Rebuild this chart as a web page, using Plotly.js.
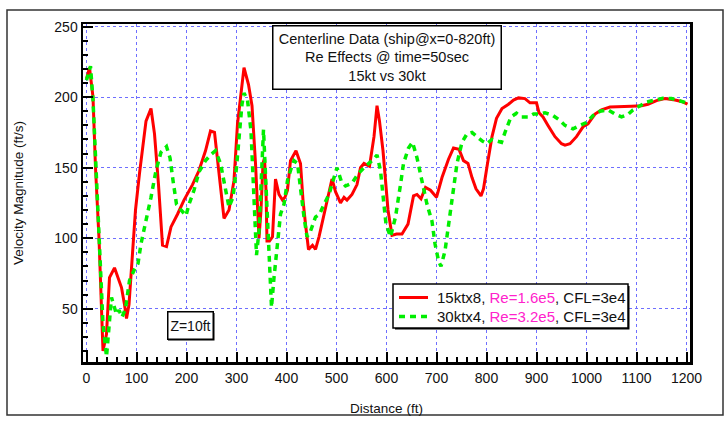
<!DOCTYPE html>
<html>
<head>
<meta charset="utf-8">
<script src="https://cdn.plot.ly/plotly-3.0.1.min.js"></script>
<style>
html,body{margin:0;padding:0;background:#fff;}
#chart{width:728px;height:424px;}
</style>
</head>
<body>
<div id="chart"></div>
<script>
// Red series: 15ktx8
const redX = [0,6,13,18,25,33,40,46,56,70,76,80,85,91,98,106,113,119,129,136,144,152,160,169,182,195,212,225,238,248,256,265,275,285,295,302,309,315,324,331,338,342,345,349,353,356,359,361,366,372,378,385,392,397,402,408,419,428,433,438,444,452,458,465,475,485,491,498,508,515,521,531,541,548,555,566,575,581,586,593,598,603,611,620,631,643,654,661,669,678,688,700,711,724,734,745,754,763,771,779,789,794,802,811,820,831,844,854,864,877,887,900,905,913,923,937,950,957,967,980,993,1003,1017,1030,1047,1070,1090,1110,1123,1140,1157,1177,1190,1202];
const redY = [213,221,200,150,100,20,32,72,79,65,53,43,53,82,120,146,167,183,192,174,138,95,94,108,117,127,138,148,162,176,175,148,114,120,141,181,205,221,209,194,153,120,100,120,153,157,134,98,98,101,142,131,127,129,134,155,162,153,127,110,92,95,92,101,117,134,142,133,125,129,127,131,138,150,153,151,172,194,183,162,141,120,102,103,103,110,130,131,128,136,134,129,143,156,164,163,155,153,143,135,130,135,153,172,185,192,195,198,199.5,199,196,196,189,186,180,172,167,166,167,172,179,181,188,191,193,193.6,193.6,194,195,197.6,199,198,197,195];

// Green series: 30ktx4
const greenX = [0,8,13,20,26,33,40,45,50,55,60,65,71,78,86,96,103,109,119,129,139,149,160,167,173,180,189,199,205,215,225,238,248,258,268,277,285,293,300,306,311,315,322,329,333,337,340,345,350,354,357,362,366,370,375,382,388,395,402,408,415,422,428,435,441,448,458,466,475,485,495,501,510,518,531,544,555,565,574,581,588,594,599,608,618,628,634,644,652,661,671,681,691,697,704,709,717,724,732,741,751,761,771,781,791,801,811,820,830,838,849,860,870,884,894,905,917,933,947,957,973,987,1000,1013,1027,1043,1057,1070,1083,1093,1107,1120,1137,1153,1170,1183,1200];
const greenY = [212,222,198,143,87,39,16,39,58,52,46,49,44,50,70,78,82,96,112,129,148,161,165,157,141,124,120,116,124,134,147,155,159,162,153,136,122,129,150,175,195,203,198,176,146,110,88,105,153,177,153,110,77,51,72,100,117,124,141,148,155,153,134,115,101,105,115,117,124,131,143,150,140,137,139,146,150,153,156,159,148,127,110,101,115,138,153,164,168,157,141,124,112,96,84,80,91,110,131,153,168,174,175,172,169,167,170,169,168,176,186,188.6,186,186,188,188,189,187,183.5,180,177.5,180,182,187,190,191,188,186,187.7,191,194,196.5,198,199.3,199,197.6,196];

const seriesNames = [
  '15ktx8, <span style="color:#ff22cc">Re=1.6e5</span>, CFL=3e4',
  '30ktx4, <span style="color:#ff22cc">Re=3.2e5</span>, CFL=3e4'
];
const xTickVals = [0,100,200,300,400,500,600,700,800,900,1000,1100,1200];
const yTickVals = [50,100,150,200,250];

const FONT = '"Liberation Sans", Arial, sans-serif';
const RED = '#ff0000', GREEN = '#00ee00', GREEN_DASH = '6px,5px';

const traces = [
  {x: redX, y: redY, type: 'scatter', mode: 'lines', name: seriesNames[0],
   line: {color: RED, width: 3}},
  {x: greenX, y: greenY, type: 'scatter', mode: 'lines', name: seriesNames[1],
   line: {color: GREEN, width: 3.5, dash: GREEN_DASH}}
];

const axisCommon = {
  showline: true, linecolor: '#000', linewidth: 2.5, mirror: true,
  ticks: 'inside', tickcolor: '#000', tickwidth: 2,
  showgrid: true, gridcolor: '#6f6fff', gridwidth: 1, griddash: 'dot',
  zeroline: false,
  tickfont: {family: FONT, size: 14, color: '#111'}
};

// pixel -> paper helpers (plot area: x 83..690, y 24..362)
const px = v => (v - 83) / 607;
const py = v => (362 - v) / 338;

const legendRows = [297.5, 316.5];

const shapes = [
  // outer frame
  {type: 'rect', xref: 'paper', yref: 'paper', x0: px(7), x1: px(723), y0: py(415), y1: py(10),
   line: {color: '#333', width: 1.5}},
  // title box shadow
  {type: 'rect', xref: 'paper', yref: 'paper', x0: px(275), x1: px(501.5), y0: py(89.5), y1: py(27),
   line: {width: 0}, fillcolor: '#000'},
  // Z box shadow
  {type: 'rect', xref: 'paper', yref: 'paper', x0: px(168), x1: px(214.5), y0: py(340.5), y1: py(313),
   line: {width: 0}, fillcolor: '#000'},
  // legend box shadow + box
  {type: 'rect', xref: 'paper', yref: 'paper', x0: px(395), x1: px(629.5), y0: py(329.5), y1: py(286),
   line: {width: 0}, fillcolor: '#000'},
  {type: 'rect', xref: 'paper', yref: 'paper', x0: px(393), x1: px(628), y0: py(328), y1: py(284),
   line: {color: '#000', width: 1.5}, fillcolor: '#fff'},
  // legend samples
  {type: 'line', xref: 'paper', yref: 'paper', x0: px(399), x1: px(428), y0: py(legendRows[0]), y1: py(legendRows[0]),
   line: {color: RED, width: 3}},
  {type: 'line', xref: 'paper', yref: 'paper', x0: px(399), x1: px(429), y0: py(legendRows[1]), y1: py(legendRows[1]),
   line: {color: GREEN, width: 3.5, dash: GREEN_DASH}}
];

const annotations = [
  {xref: 'paper', yref: 'paper', x: px(386.5), y: py(25), xanchor: 'center', yanchor: 'top',
   text: 'Centerline Data (ship@x=0-820ft)<br>Re Effects @ time=50sec<br>15kt vs 30kt',
   showarrow: false, align: 'center',
   font: {family: FONT, size: 14.5, color: '#111'},
   bgcolor: '#fff', bordercolor: '#000', borderwidth: 1.5, borderpad: 3,
   width: 221, height: 56},
  {xref: 'paper', yref: 'paper', x: px(190), y: py(325.5), xanchor: 'center', yanchor: 'middle',
   text: 'Z=10ft', showarrow: false,
   font: {family: FONT, size: 14, color: '#111'},
   bgcolor: '#fff', bordercolor: '#000', borderwidth: 1.5, borderpad: 1,
   width: 42, height: 24},
  {xref: 'paper', yref: 'paper', x: px(435), y: py(legendRows[0]), xanchor: 'left', yanchor: 'middle',
   text: seriesNames[0], showarrow: false, font: {family: FONT, size: 15, color: '#111'}},
  {xref: 'paper', yref: 'paper', x: px(435), y: py(legendRows[1]), xanchor: 'left', yanchor: 'middle',
   text: seriesNames[1], showarrow: false, font: {family: FONT, size: 15, color: '#111'}}
];

const layout = {
  width: 728, height: 424,
  margin: {l: 83, r: 38, t: 24, b: 62},
  paper_bgcolor: '#fff', plot_bgcolor: '#fff',
  font: {family: FONT, color: '#111'},
  showlegend: false,
  xaxis: Object.assign({}, axisCommon, {
    range: [-7, 1207], tickmode: 'array', tickvals: xTickVals, ticklen: 10,
    ticklabelstandoff: 2,
    minor: {dtick: 20, tick0: 0, ticks: 'inside', ticklen: 5, tickcolor: '#000', tickwidth: 2, showgrid: false},
    title: {text: 'Distance (ft)', font: {family: FONT, size: 13.5, color: '#111'}, standoff: 19}
  }),
  yaxis: Object.assign({}, axisCommon, {
    range: [12.2, 251.9], tickmode: 'array', tickvals: yTickVals, ticklen: 10,
    minor: {dtick: 10, tick0: 0, ticks: 'inside', ticklen: 5, tickcolor: '#000', tickwidth: 2, showgrid: false},
    title: {text: 'Velocity Magnitude (ft/s)', font: {family: FONT, size: 13.5, color: '#111'}, standoff: 28}
  }),
  shapes: shapes,
  annotations: annotations
};

Plotly.newPlot('chart', traces, layout, {displayModeBar: false, staticPlot: true});
</script>
</body>
</html>
